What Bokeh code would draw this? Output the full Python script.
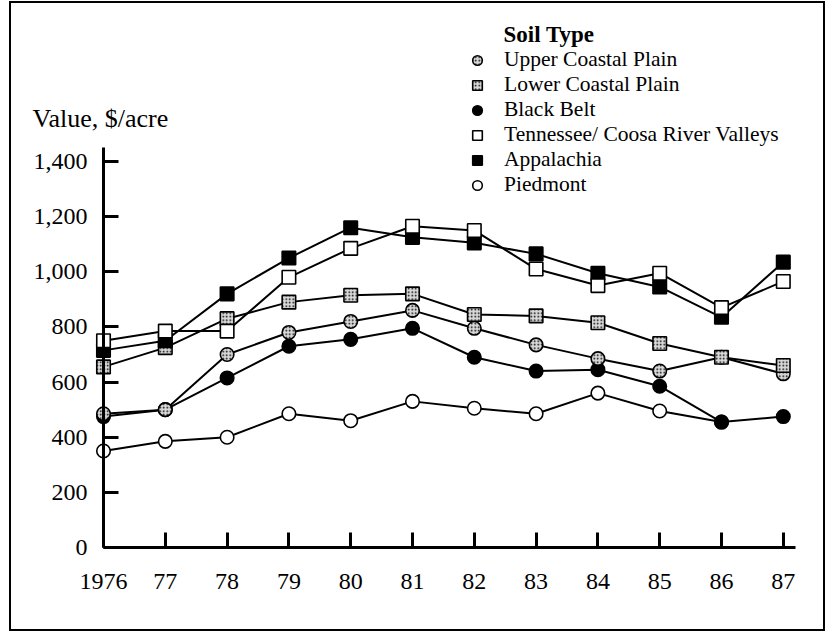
from bokeh.plotting import figure
from bokeh.models import Range1d, FixedTicker, Legend, LegendItem, Label, NumeralTickFormatter
from bokeh.embed import file_html
from bokeh.resources import INLINE

years = [1976, 1977, 1978, 1979, 1980, 1981, 1982, 1983, 1984, 1985, 1986, 1987]
year_labels = ["1976", "77", "78", "79", "80", "81", "82", "83", "84", "85", "86", "87"]
y_ticks = [0, 200, 400, 600, 800, 1000, 1200, 1400]

upper_coastal = [485, 500, 700, 780, 820, 860, 795, 735, 685, 640, 690, 630]
lower_coastal = [655, 725, 830, 890, 915, 920, 845, 840, 815, 740, 690, 660]
black_belt = [475, 500, 615, 730, 755, 795, 690, 640, 645, 585, 455, 475]
tennessee = [750, 785, 785, 980, 1085, 1165, 1150, 1010, 950, 995, 870, 965]
appalachia = [715, 750, 920, 1050, 1160, 1125, 1105, 1065, 995, 945, 835, 1035]
piedmont = [350, 385, 400, 485, 460, 530, 505, 485, 560, 495, 455, float("nan")]

FONT = "Liberation Serif"
PX_X = 61.8     # px per year
PX_Y = 0.2757   # px per $
W, H = 816, 630
LEFT, TOP = 11, 3          # page position of the canvas
AX_X, AX_Y = 103, 547      # page position of the axes origin

x0 = 1976 - (AX_X - LEFT) / PX_X
y0 = -(TOP + H - AX_Y) / PX_Y

p = figure(width=W, height=H, output_backend="svg", toolbar_location=None,
           min_border_left=0, min_border_right=0, min_border_top=0, min_border_bottom=0,
           x_range=Range1d(x0, x0 + W / PX_X), y_range=Range1d(y0, y0 + H / PX_Y),
           background_fill_color="white", border_fill_color="white")
p.styles = {"border": "2px solid black", "margin-left": "9px", "margin-top": "1px"}
p.outline_line_color = None
p.grid.visible = False

for ax in (p.xaxis[0], p.yaxis[0]):
    ax.axis_line_width = 3
    ax.axis_line_color = "black"
    ax.major_tick_line_width = 3
    ax.major_tick_line_color = "black"
    ax.major_tick_in = 15
    ax.major_tick_out = 0
    ax.minor_tick_line_color = None
    ax.major_label_text_font = FONT
    ax.major_label_text_font_size = "24px"
    ax.major_label_text_color = "black"

p.xaxis.ticker = FixedTicker(ticks=years)
p.xaxis.major_label_overrides = {y: l for y, l in zip(years, year_labels)}
p.xaxis.bounds = (1976, 1987.2)
p.xaxis.fixed_location = 0
p.xaxis.major_label_standoff = 26

p.yaxis.ticker = FixedTicker(ticks=y_ticks)
p.yaxis.formatter = NumeralTickFormatter(format="0,0")
p.yaxis.bounds = (0, 1451)
p.yaxis.fixed_location = 1976
p.yaxis.major_label_standoff = 16

series = [
    ("Piedmont", piedmont, "circle", "white", None),
    ("Black Belt", black_belt, "circle", "black", None),
    ("Upper Coastal Plain", upper_coastal, "circle", "#d8d8d8", "dot"),
    ("Lower Coastal Plain", lower_coastal, "square", "#d8d8d8", "dot"),
    ("Appalachia", appalachia, "square", "black", None),
    ("Tennessee/ Coosa River Valleys", tennessee, "square", "white", None),
]

for name, data, marker, fill, hatch in series:
    p.line(years, data, line_color="black", line_width=2)

renderers = {}
for name, data, marker, fill, hatch in series:
    kw = {}
    if hatch:
        kw = dict(hatch_pattern=hatch, hatch_color="black", hatch_scale=3.5, hatch_weight=1)
    r = p.scatter(years, data, marker=marker, size=13.5, fill_color=fill,
                  line_color="black", line_width=1.6, **kw)
    renderers[name] = r

legend_order = ["Upper Coastal Plain", "Lower Coastal Plain", "Black Belt",
                "Tennessee/ Coosa River Valleys", "Appalachia", "Piedmont"]
legend = Legend(items=[LegendItem(label=n, renderers=[renderers[n]]) for n in legend_order],
                location=(463 - LEFT, TOP + H - 197), padding=0, margin=0, spacing=0,
                glyph_width=28, glyph_height=24, label_height=20, label_standoff=13,
                label_text_font=FONT, label_text_font_size="21.5px", label_text_color="black",
                border_line_color=None, background_fill_alpha=0)
p.add_layout(legend, "center")

p.add_layout(Label(x=1976 + (503 - AX_X) / PX_X, y=(AX_Y - 34) / PX_Y, text="Soil Type",
                   text_font=FONT, text_font_size="23px", text_font_style="bold",
                   text_baseline="middle", text_align="left", text_color="black"))
p.add_layout(Label(x=1976 + (32 - AX_X) / PX_X, y=(AX_Y - 118) / PX_Y, text="Value, $/acre",
                   text_font=FONT, text_font_size="26px",
                   text_baseline="middle", text_align="left", text_color="black"))

open("out.html", "w").write(file_html(p, INLINE))
